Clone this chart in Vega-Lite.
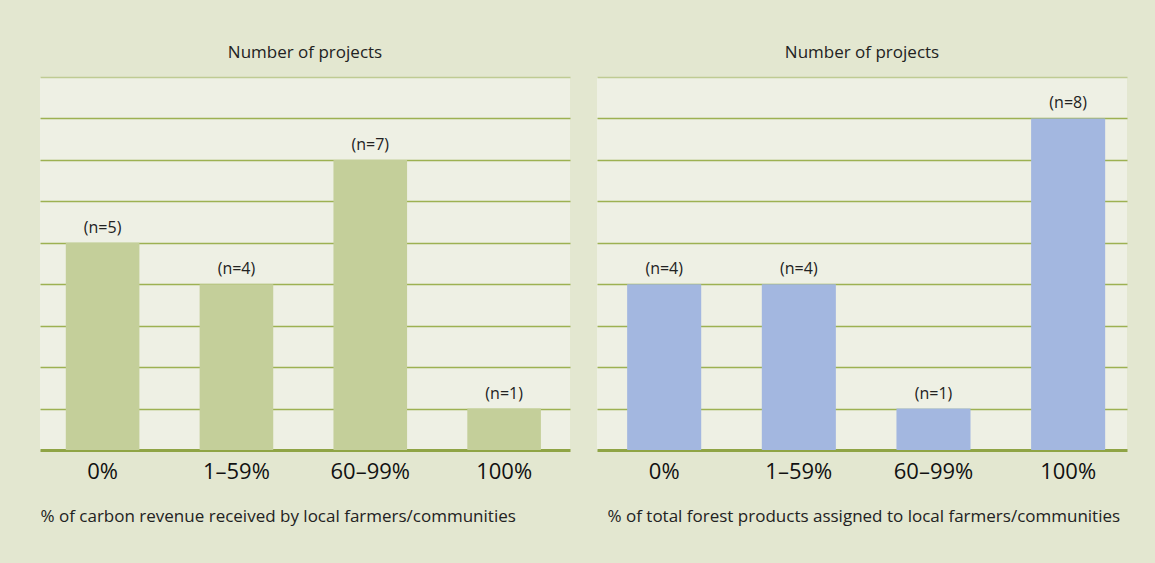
{
  "$schema": "https://vega.github.io/schema/vega-lite/v6.json",
  "background": "#e3e7d0",
  "padding": {"left": 40, "top": 44, "right": 28, "bottom": 41},
  "spacing": 27,
  "config": {
    "font": "Open Sans",
    "view": {"fill": "#eef0e4", "stroke": null},
    "title": {"fontSize": 17, "fontWeight": "normal", "color": "#222222", "anchor": "middle", "offset": 15}
  },
  "datasets": {
    "left": [
      {"category": "0%", "projects": 5, "label": "(n=5)"},
      {"category": "1–59%", "projects": 4, "label": "(n=4)"},
      {"category": "60–99%", "projects": 7, "label": "(n=7)"},
      {"category": "100%", "projects": 1, "label": "(n=1)"}
    ],
    "right": [
      {"category": "0%", "projects": 4, "label": "(n=4)"},
      {"category": "1–59%", "projects": 4, "label": "(n=4)"},
      {"category": "60–99%", "projects": 1, "label": "(n=1)"},
      {"category": "100%", "projects": 8, "label": "(n=8)"}
    ]
  },
  "hconcat": [
    {
      "width": 530,
      "height": 373,
      "title": "Number of projects",
      "data": {"name": "left"},
      "encoding": {
        "x": {
          "field": "category", "type": "nominal", "sort": null,
          "scale": {"paddingInner": 0.45, "paddingOuter": 0.205, "align": 0.47},
          "axis": {
            "title": "% of carbon revenue received by local farmers/communities",
            "titleAnchor": "start", "titleAlign": "left", "titleFontSize": 17, "titleFontWeight": "normal", "titleColor": "#222222", "titlePadding": 26,
            "labelAngle": 0, "labelFontSize": 22, "labelFontWeight": 500, "labelColor": "#111111", "labelPadding": 11,
            "ticks": false, "domainColor": "#8fa445", "domainWidth": 3, "grid": false
          }
        },
        "y": {
          "field": "projects", "type": "quantitative",
          "scale": {"domain": [0, 9]},
          "axis": {
            "title": null, "labels": false, "ticks": false, "domain": false,
            "values": [1, 2, 3, 4, 5, 6, 7, 8, 9],
            "gridColor": {"condition": {"test": "datum.value === 9", "value": "#bfcb93"}, "value": "#9db152"},
            "gridWidth": 1.5
          }
        }
      },
      "layer": [
        {"mark": {"type": "bar", "color": "#c4cf9a"}},
        {
          "mark": {"type": "text", "dy": -15, "fontSize": 16, "color": "#222222"},
          "encoding": {"text": {"field": "label", "type": "nominal"}}
        }
      ]
    },
    {
      "width": 530,
      "height": 373,
      "title": "Number of projects",
      "data": {"name": "right"},
      "encoding": {
        "x": {
          "field": "category", "type": "nominal", "sort": null,
          "scale": {"paddingInner": 0.45, "paddingOuter": 0.193, "align": 0.58},
          "axis": {
            "title": "% of total forest products assigned to local farmers/communities",
            "titleAnchor": "start", "titleAlign": "left", "titleFontSize": 17, "titleFontWeight": "normal", "titleColor": "#222222", "titlePadding": 26, "titleX": 10,
            "labelAngle": 0, "labelFontSize": 22, "labelFontWeight": 500, "labelColor": "#111111", "labelPadding": 11,
            "ticks": false, "domainColor": "#8fa445", "domainWidth": 3, "grid": false
          }
        },
        "y": {
          "field": "projects", "type": "quantitative",
          "scale": {"domain": [0, 9]},
          "axis": {
            "title": null, "labels": false, "ticks": false, "domain": false,
            "values": [1, 2, 3, 4, 5, 6, 7, 8, 9],
            "gridColor": {"condition": {"test": "datum.value === 9", "value": "#bfcb93"}, "value": "#9db152"},
            "gridWidth": 1.5
          }
        }
      },
      "layer": [
        {"mark": {"type": "bar", "color": "#a3b7e0"}},
        {
          "mark": {"type": "text", "dy": -15, "fontSize": 16, "color": "#222222"},
          "encoding": {"text": {"field": "label", "type": "nominal"}}
        }
      ]
    }
  ]
}
